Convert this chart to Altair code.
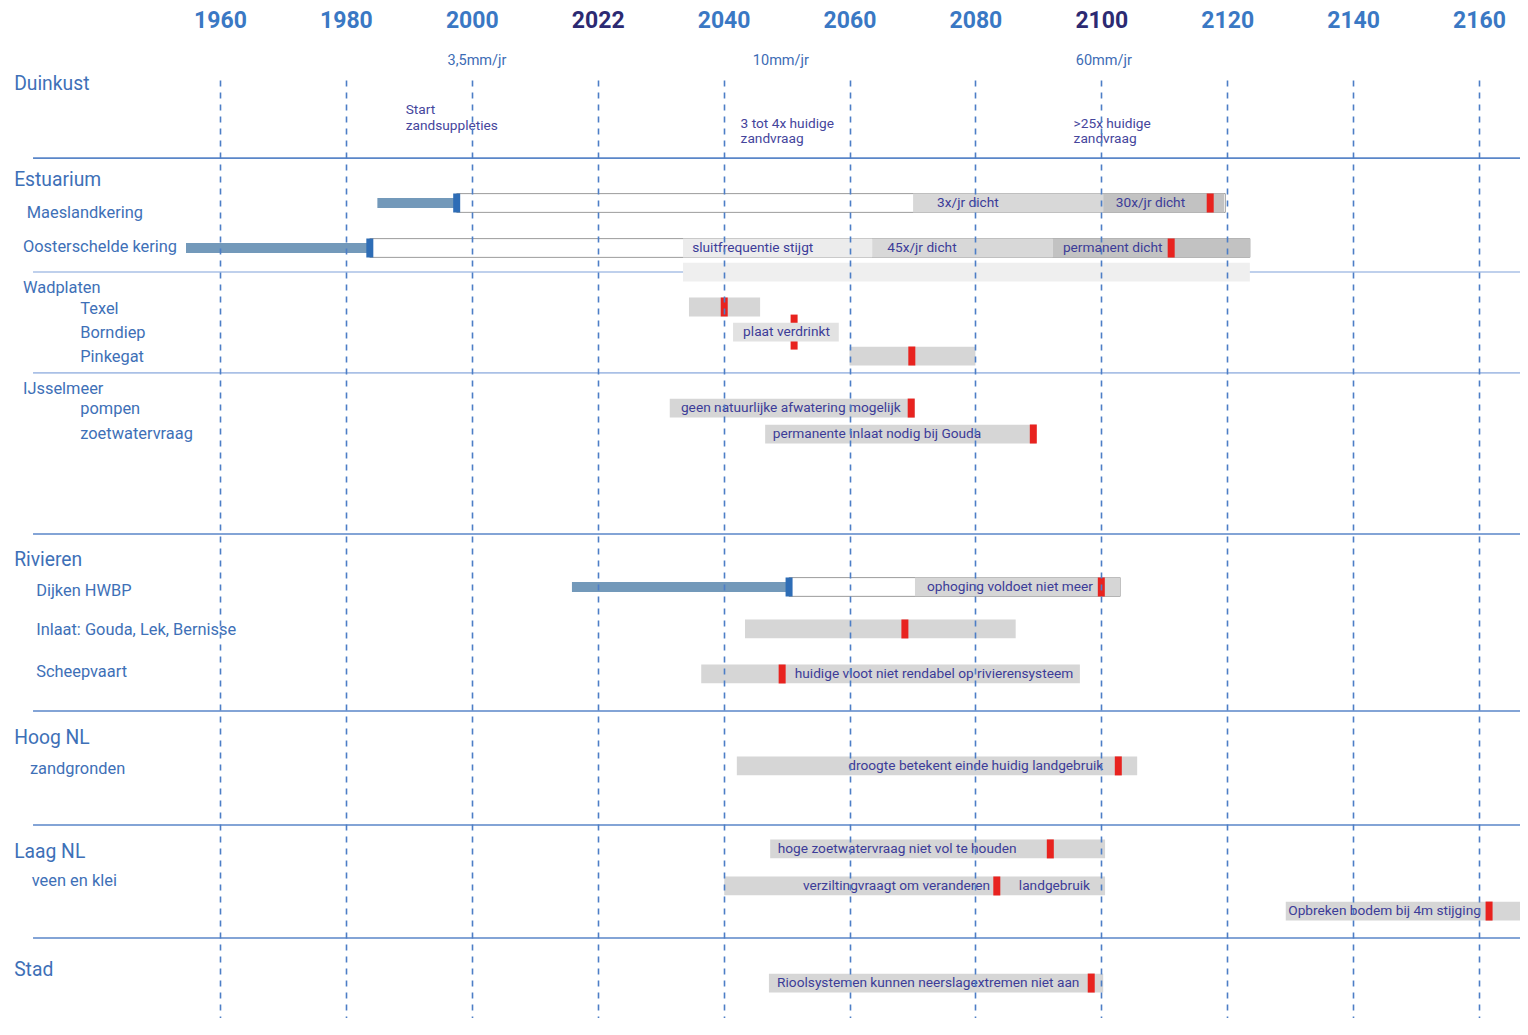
import altair as alt
import pandas as pd

# ---------------- data ----------------
tick_years = [1960, 1980, 2000, 2022, 2040, 2060, 2080, 2100, 2120, 2140, 2160]
highlight_years = [2022, 2100]

# section headings (left column)
section_names = ["Duinkust", "Estuarium", "Rivieren", "Hoog NL", "Laag NL", "Stad"]
section_slots = [0.17, 4.26, 20.47, 28.06, 32.92, 37.95]
section_x = [1927.3, 1927.3, 1927.3, 1927.3, 1927.3, 1927.3]

# sub rows (left column)
row_names = ["Maeslandkering", "Oosterschelde kering", "Wadplaten", "Texel", "Borndiep",
             "Pinkegat", "IJsselmeer", "pompen", "zoetwatervraag", "Dijken HWBP",
             "Inlaat: Gouda, Lek, Bernisse", "Scheepvaart", "zandgronden", "veen en klei"]
row_slots = [5.67, 7.12, 8.87, 9.77, 10.79, 11.81, 13.18, 14.03, 15.10, 21.79, 23.45, 25.25, 29.38, 34.16]
row_x = [1929.3, 1928.7, 1928.7, 1937.8, 1937.8, 1937.8, 1928.7, 1937.8, 1937.8,
         1930.8, 1930.8, 1930.8, 1929.8, 1930.1]

# separators between sections
sep_slots = [3.33, 8.19, 12.49, 19.36, 26.91, 31.77, 36.59]
sep_kind = ["hoofd", "sub", "sub", "hoofd", "hoofd", "hoofd", "hoofd"]
sep_start = 1930.3
sep_end = 2180

# built works (blue bars) and their remaining lifetime boxes
built_names = ["Maeslandkering", "Oosterschelde kering", "Dijken HWBP"]
built_start = [1985.0, 1954.6, 2017.5]
built_done = [1997.6, 1983.8, 2050.4]
built_life_end = [2119.7, 2123.6, 2103.0]
built_slots = [5.245, 7.164, 21.62]

# grey (hatched) periods
seg_start = [2070.1, 2100.3, 2034.2, 2063.6, 2092.3, 2034.2, 2035.05, 2041.5, 2060.0, 2032.3,
             2046.6, 2070.4, 2043.4, 2036.8, 2042.1, 2047.4, 2040.1, 2129.3, 2047.2]
seg_end = [2100.3, 2119.5, 2063.6, 2092.3, 2123.6, 2123.6, 2045.8, 2058.3, 2080.0, 2070.4,
           2089.6, 2103.0, 2086.4, 2096.6, 2105.7, 2100.6, 2100.6, 2175.0, 2100.3]
seg_slots = [5.245, 5.245, 7.164, 7.164, 7.164, 8.19, 9.68, 10.75, 11.77, 13.99,
             15.10, 21.62, 23.41, 25.33, 29.25, 32.79, 34.37, 35.44, 38.51]
seg_shade = ["midden", "donker", "licht", "midden", "donker", "band", "arcering", "vlak",
             "arcering", "arcering", "arcering", "arcering", "arcering", "arcering",
             "arcering", "arcering", "arcering", "arcering", "arcering"]

# texts inside the bars
bar_text = ["3x/jr dicht", "30x/jr dicht", "sluitfrequentie stijgt", "45x/jr dicht",
            "permanent dicht", "plaat verdrinkt", "geen natuurlijke afwatering mogelijk",
            "permanente inlaat nodig bij Gouda", "ophoging voldoet niet meer",
            "huidige vloot niet rendabel op rivierensysteem",
            "droogte betekent einde huidig landgebruik",
            "hoge zoetwatervraag niet vol te houden", "verziltingvraagt om veranderen",
            "landgebruik", "Opbreken bodem bij 4m stijging",
            "Rioolsystemen kunnen neerslagextremen  niet aan"]
bar_text_x = [2073.9, 2102.3, 2035.5, 2066.0, 2093.9, 2043.1, 2033.9, 2047.8, 2072.3,
              2051.3, 2059.8, 2048.6, 2052.6, 2086.9, 2129.7, 2048.5]
bar_text_slot = [5.245, 5.245, 7.164, 7.164, 7.164, 10.75, 13.99, 15.10, 21.62,
                 25.33, 29.25, 32.79, 34.37, 34.37, 35.44, 38.51]

# tipping points (red markers)
tip_year = [2117.3, 2111.1, 2040.1, 2069.9, 2069.8, 2089.2, 2100.0, 2068.8, 2049.3,
            2102.7, 2091.9, 2083.4, 2161.6, 2098.4]
tip_slot = [5.245, 7.164, 9.68, 11.77, 13.99, 15.10, 21.62, 23.41, 25.33,
            29.25, 32.79, 34.37, 35.44, 38.51]
tip_long_year = [2051.2]   # Borndiep: marker behind the box
tip_long_slot = [10.75]

# Duinkust annotations
rate_text = ["3,5mm/jr", "10mm/jr", "60mm/jr"]
rate_x = [2000.9, 2049.1, 2100.4]
rate_slot = [-0.81, -0.81, -0.81]
note_text = ["Start", "zandsuppleties", "3 tot 4x huidige", "zandvraag", ">25x huidige", "zandvraag"]
note_x = [1989.5, 1989.5, 2042.7, 2042.7, 2095.6, 2095.6]
note_slot = [1.28, 1.96, 1.88, 2.52, 1.88, 2.52]

# ---------------- tables ----------------
sections = pd.DataFrame({"label": section_names, "slot": section_slots, "x": section_x})
rows = pd.DataFrame({"label": row_names, "slot": row_slots, "x": row_x})
seps = pd.DataFrame({"slot": sep_slots, "kind": sep_kind, "start": sep_start, "end": sep_end})
built = pd.DataFrame({"name": built_names, "start": built_start, "done": built_done,
                      "end": built_life_end, "slot": built_slots})
segs = pd.DataFrame({"start": seg_start, "end": seg_end, "slot": seg_slots, "shade": seg_shade})
texts = pd.DataFrame({"label": bar_text, "x": bar_text_x, "slot": bar_text_slot})
tips = pd.DataFrame({"year": tip_year, "slot": tip_slot})
tips_long = pd.DataFrame({"year": tip_long_year, "slot": tip_long_slot})
rates = pd.DataFrame({"label": rate_text, "x": rate_x, "slot": rate_slot})
notes = pd.DataFrame({"label": note_text, "x": note_x, "slot": note_slot})

# ---------------- scales ----------------
W, H = 1512, 938
STEP = 125.9
X0 = 212
scale_domain = [1920, 1940] + tick_years + [2180]
scale_range = [X0 + STEP * i for i in range(-2, 12)]
xscale = alt.Scale(domain=scale_domain, range=scale_range, nice=False, zero=False)
yscale = alt.Scale(domain=[0, 40], reverse=True, nice=False, zero=False)

hl_test = " || ".join(f"datum.value == {y}" for y in highlight_years)
xaxis = alt.Axis(orient="top", values=tick_years, format="d", title=None,
                 labelFont="Roboto", labelFontSize=23, labelFontWeight="bold",
                 labelColor={"condition": {"test": hl_test, "value": "#2c2a72"}, "value": "#3a78c4"},
                 labelPadding=53, labelBaseline="alphabetic", ticks=False, tickSize=0,
                 domain=False, grid=True, gridColor="#4d7ec6", gridWidth=1.6,
                 gridDash=[6, 6], labelOverlap=False, labelFlush=False, zindex=1)


def X(field):
    return alt.X(field, type="quantitative", scale=xscale, axis=xaxis)


def Y(field):
    return alt.Y(field, type="quantitative", scale=yscale, axis=None)


HALF = 0.4
RED = "#e8231f"
TXT = "#3c3c98"
LBL = "#3e70b7"

sep_layer = alt.Chart(seps).mark_rule(strokeWidth=1.6).encode(
    x=X("start"), x2="end", y=Y("slot"),
    color=alt.Color("kind:N", scale=alt.Scale(domain=["hoofd", "sub"], range=["#5a86c8", "#aac0e6"]), legend=None),
)

long_tip_layer = alt.Chart(tips_long).mark_tick(orient="vertical", thickness=7, size=35,
                                                color=RED, opacity=1).encode(
    x=X("year"), y=Y("slot"))

box_layer = alt.Chart(built).transform_calculate(
    y0=f"datum.slot - {HALF}", y1=f"datum.slot + {HALF}"
).mark_rect(fill="white", stroke="#9c9c9c", strokeWidth=1).encode(
    x=X("done"), x2="end", y=Y("y0"), y2="y1")

seg_layer = alt.Chart(segs).transform_calculate(
    y0=f"datum.slot - {HALF}", y1=f"datum.slot + {HALF}"
).mark_rect(opacity=1).encode(
    x=X("start"), x2="end", y=Y("y0"), y2="y1",
    color=alt.Color("shade:N", scale=alt.Scale(
        domain=["licht", "midden", "donker", "arcering", "vlak", "band"],
        range=["#ececec", "#d8d8d8", "#c2c2c2", "#d6d6d6", "#e2e2e2", "#efefef"]), legend=None),
)

blue_bar_layer = alt.Chart(built).mark_rule(strokeWidth=10, color="#7399ba").encode(
    x=X("start"), x2="done", y=Y("slot"))

blue_tip_layer = alt.Chart(built).mark_tick(orient="vertical", thickness=7, size=19,
                                            color="#2e6db6", opacity=1).encode(
    x=X("done"), y=Y("slot"))

text_layer = alt.Chart(texts).mark_text(align="left", baseline="middle", font="Roboto",
                                        fontSize=13.7, color=TXT).encode(
    x=X("x"), y=Y("slot"), text="label:N")

tip_layer = alt.Chart(tips).mark_tick(orient="vertical", thickness=7, size=19,
                                      color=RED, opacity=1).encode(
    x=X("year"), y=Y("slot"))

section_layer = alt.Chart(sections).mark_text(align="left", baseline="middle", font="Roboto",
                                              fontSize=19.3, color=LBL).encode(
    x=X("x"), y=Y("slot"), text="label:N")

row_layer = alt.Chart(rows).mark_text(align="left", baseline="middle", font="Roboto",
                                      fontSize=16.4, color=LBL).encode(
    x=X("x"), y=Y("slot"), text="label:N")

rate_layer = alt.Chart(rates).mark_text(align="center", baseline="middle", font="Roboto",
                                        fontSize=14.5, color="#3d6cb5").encode(
    x=X("x"), y=Y("slot"), text="label:N")

note_layer = alt.Chart(notes).mark_text(align="left", baseline="middle", font="Roboto",
                                        fontSize=13.7, color="#45459c").encode(
    x=X("x"), y=Y("slot"), text="label:N")

chart = alt.layer(
    sep_layer, long_tip_layer, box_layer, seg_layer, blue_bar_layer, blue_tip_layer,
    text_layer, tip_layer, section_layer, row_layer, rate_layer, note_layer
).resolve_scale(
    color="independent"
).properties(
    width=W, height=H,
    padding={"left": 0, "top": 72, "right": 0, "bottom": 0},
    autosize=alt.AutoSizeParams(type="none"),
    background="white",
).configure_view(stroke=None)

chart.save("out.html", embed_options={"renderer": "svg", "actions": False})
